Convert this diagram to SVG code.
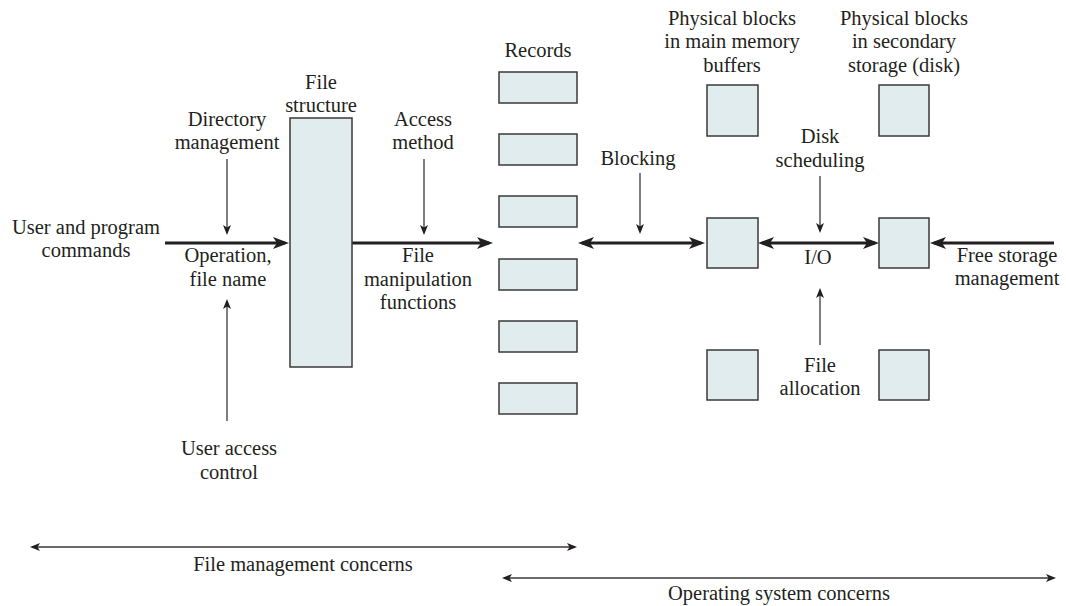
<svg xmlns="http://www.w3.org/2000/svg" width="1066" height="606" viewBox="0 0 1066 606">
<style>
text{font-family:"Liberation Serif","Times New Roman",serif;font-size:20.5px;fill:#231f20;text-anchor:middle}
.box{fill:#e1ecef;stroke:#3a3a3a;stroke-width:1.5}
.thick{stroke:#231f20;stroke-width:3;fill:none}
.thin{stroke:#3a3a3a;stroke-width:1.3;fill:none}
</style>
<defs>
<marker id="ah" viewBox="0 0 16 12" refX="12" refY="6" markerWidth="16" markerHeight="12" markerUnits="userSpaceOnUse" orient="auto-start-reverse">
<path d="M0,0 L16,6 L0,12 L4,6 z" fill="#231f20"/>
</marker>
<marker id="at" viewBox="0 0 10 8" refX="8" refY="4" markerWidth="10" markerHeight="8" markerUnits="userSpaceOnUse" orient="auto-start-reverse">
<path d="M0,0 L10,4 L0,8 L2.5,4 z" fill="#231f20"/>
</marker>
</defs>
<rect width="1066" height="606" fill="#ffffff"/>

<g id="connectors">
<line class="thick" x1="165" y1="243" x2="285" y2="243" marker-end="url(#ah)"/>
<line class="thick" x1="352" y1="243" x2="489" y2="243" marker-end="url(#ah)"/>
<line class="thick" x1="582" y1="243" x2="701" y2="243" marker-start="url(#ah)" marker-end="url(#ah)"/>
<line class="thick" x1="762" y1="243" x2="875" y2="243" marker-start="url(#ah)" marker-end="url(#ah)"/>
<line class="thick" x1="1054" y1="243" x2="934" y2="243" marker-end="url(#ah)"/>
<line class="thin" x1="227" y1="159" x2="227" y2="233" marker-end="url(#at)"/>
<line class="thin" x1="424" y1="159" x2="424" y2="233" marker-end="url(#at)"/>
<line class="thin" x1="227" y1="421" x2="227" y2="301" marker-end="url(#at)"/>
<line class="thin" x1="640" y1="173" x2="640" y2="232" marker-end="url(#at)"/>
<line class="thin" x1="820" y1="176" x2="820" y2="231" marker-end="url(#at)"/>
<line class="thin" x1="820" y1="345" x2="820" y2="290" marker-end="url(#at)"/>
<line class="thin" x1="32" y1="547" x2="575" y2="547" marker-start="url(#at)" marker-end="url(#at)"/>
<line class="thin" x1="504" y1="578" x2="1054" y2="578" marker-start="url(#at)" marker-end="url(#at)"/>
</g>

<g id="file-structure">
<rect class="box" x="290" y="118" width="62" height="249"/>
<text x="321" y="89">File</text>
<text x="321" y="112">structure</text>
</g>

<g id="records">
<text x="538" y="57">Records</text>
<rect class="box" x="499" y="72" width="78" height="31"/>
<rect class="box" x="499" y="134" width="78" height="31"/>
<rect class="box" x="499" y="196" width="78" height="31"/>
<rect class="box" x="499" y="259" width="78" height="31"/>
<rect class="box" x="499" y="321" width="78" height="31"/>
<rect class="box" x="499" y="383" width="78" height="31"/>
</g>

<g id="memory-buffers">
<text x="732" y="25">Physical blocks</text>
<text x="732" y="48">in main memory</text>
<text x="732" y="72">buffers</text>
<rect class="box" x="707" y="85" width="51" height="51"/>
<rect class="box" x="707" y="218" width="51" height="50"/>
<rect class="box" x="707" y="350" width="51" height="50"/>
</g>

<g id="secondary-storage">
<text x="904" y="25">Physical blocks</text>
<text x="904" y="48">in secondary</text>
<text x="904" y="72">storage (disk)</text>
<rect class="box" x="879" y="85" width="50" height="51"/>
<rect class="box" x="879" y="218" width="50" height="50"/>
<rect class="box" x="879" y="350" width="50" height="50"/>
</g>

<g id="labels">
<text x="227" y="126">Directory</text>
<text x="227" y="149">management</text>
<text x="423" y="126">Access</text>
<text x="423" y="149">method</text>
<text x="86" y="234">User and program</text>
<text x="86" y="257">commands</text>
<text x="228" y="262">Operation,</text>
<text x="228" y="286">file name</text>
<text x="418" y="262">File</text>
<text x="418" y="286">manipulation</text>
<text x="418" y="309">functions</text>
<text x="229" y="455">User access</text>
<text x="229" y="479">control</text>
<text x="638" y="165">Blocking</text>
<text x="820" y="143">Disk</text>
<text x="820" y="167">scheduling</text>
<text x="818" y="264">I/O</text>
<text x="1007" y="262">Free storage</text>
<text x="1007" y="285">management</text>
<text x="820" y="372">File</text>
<text x="820" y="395">allocation</text>
<text x="303" y="571">File management concerns</text>
<text x="779" y="600">Operating system concerns</text>
</g>
</svg>
